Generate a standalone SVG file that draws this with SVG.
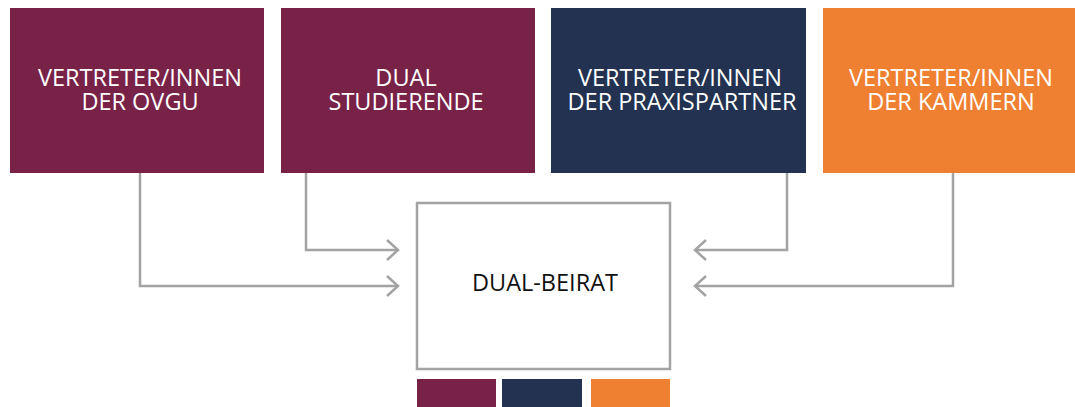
<svg xmlns="http://www.w3.org/2000/svg" width="1075" height="407" viewBox="0 0 1075 407">
  <style>
    .purple { fill: #782248; }
    .navy { fill: #223250; }
    .orange { fill: #ef8031; }
    .lbl { font-family: "Open Sans", "Liberation Sans", sans-serif; font-size: 23.5px; fill: #ffffff; text-anchor: middle; }
    .center-lbl { font-family: "Open Sans", "Liberation Sans", sans-serif; font-size: 23.5px; fill: #111111; text-anchor: middle; }
    .conn { fill: none; stroke: #a3a3a3; stroke-width: 2.5; }
  </style>
  <defs>
    <marker id="chev" markerUnits="userSpaceOnUse" markerWidth="16" markerHeight="24" refX="13" refY="12" orient="auto">
      <polyline points="2,2 13,12 2,22" fill="none" stroke="#a3a3a3" stroke-width="2.5"/>
    </marker>
  </defs>
  <rect width="1075" height="407" fill="#ffffff"/>

  <g id="ovgu">
    <rect class="purple" x="10" y="8" width="254" height="165"/>
    <text class="lbl" x="140" y="86">VERTRETER/INNEN</text>
    <text class="lbl" x="140" y="110">DER OVGU</text>
  </g>
  <g id="studierende">
    <rect class="purple" x="281" y="8" width="254" height="165"/>
    <text class="lbl" x="406" y="86">DUAL</text>
    <text class="lbl" x="406" y="110">STUDIERENDE</text>
  </g>
  <g id="praxispartner">
    <rect class="navy" x="551" y="8" width="255" height="165"/>
    <text class="lbl" x="680" y="86">VERTRETER/INNEN</text>
    <text class="lbl" x="682" y="110">DER PRAXISPARTNER</text>
  </g>
  <g id="kammern">
    <rect class="orange" x="823" y="8" width="254" height="165"/>
    <text class="lbl" x="951" y="86">VERTRETER/INNEN</text>
    <text class="lbl" x="951" y="110">DER KAMMERN</text>
  </g>

  <g id="beirat">
    <rect x="417" y="203" width="253" height="166" fill="#ffffff" stroke="#a3a3a3" stroke-width="2.5"/>
    <text class="center-lbl" x="545" y="291">DUAL-BEIRAT</text>
    <rect class="purple" x="417" y="379" width="79" height="30"/>
    <rect class="navy" x="502" y="379" width="80" height="30"/>
    <rect class="orange" x="591" y="379" width="79" height="30"/>
  </g>

  <g id="connectors">
    <polyline class="conn" points="140,173 140,286 398,286" marker-end="url(#chev)"/>
    <polyline class="conn" points="306,173 306,250 398,250" marker-end="url(#chev)"/>
    <polyline class="conn" points="787,173 787,250 695,250" marker-end="url(#chev)"/>
    <polyline class="conn" points="953,173 953,286 695,286" marker-end="url(#chev)"/>
  </g>
</svg>
